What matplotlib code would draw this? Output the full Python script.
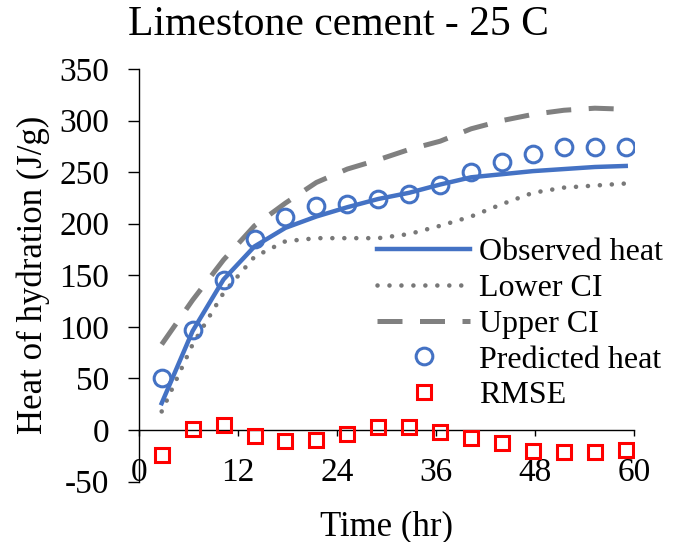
import matplotlib.pyplot as plt

plt.rcParams['font.family'] = ['Liberation Serif', 'DejaVu Serif']
plt.rcParams['axes.unicode_minus'] = False

# values
time_hr = [2.75, 6.5, 10.25, 14, 17.75, 21.5, 25.25, 29, 32.75, 36.5,
           40.25, 44, 47.75, 51.5, 55.25, 59]
observed = [26, 96, 146, 178, 196, 207, 216, 224, 230, 238,
            245, 248, 251, 253, 255, 256]
lower_ci = [18, 83, 133, 168, 183, 186, 186, 186, 190, 198,
            207, 219, 230, 235, 237, 239]
upper_ci = [83, 126, 165, 198, 220, 240, 253, 262, 272, 280,
            292, 300, 306, 310, 312, 311]
predicted = [50, 97, 145, 185, 207, 217, 219, 224, 229, 238,
             250, 260, 268, 274, 274, 274]
rmse = [-24, 1, 5, -6, -11, -10, -4, 3, 3, -2,
        -8, -13, -20, -21, -21, -19]

x_ticks = [0, 12, 24, 36, 48, 60]
y_ticks = [-50, 0, 50, 100, 150, 200, 250, 300, 350]

blue = '#4472C4'
gray = '#808080'

fig = plt.figure(figsize=(6.77, 5.42), dpi=100)
# plot area: x 139..634 px, y 69..481.6 px
ax = fig.add_axes([139 / 677, 1 - 481.6 / 542, 495 / 677, 412.6 / 542])

ax.plot(time_hr, observed, color=blue, lw=3.2, label='Observed heat', zorder=3)
ax.plot(time_hr, lower_ci, color='#787878', lw=3.3, linestyle=(0, (0.01, 2.6)),
        dash_capstyle='round', label='Lower CI', zorder=2)
ax.plot(time_hr, upper_ci, color=gray, lw=3.6, linestyle=(0, (5.0, 3.5)),
        label='Upper CI', zorder=2)
ax.plot(time_hr, predicted, linestyle='none', marker='o', ms=12, mew=2.2,
        mec=blue, mfc='none', label='Predicted heat', zorder=4)
ax.plot(time_hr, rmse, linestyle='none', marker='s', ms=10.5, mew=2.2,
        mec='#FF0000', mfc='none', label='RMSE', zorder=4)

ax.set_xlim(0, 60)
ax.set_ylim(-50, 350)
ax.set_xticks(x_ticks)
ax.set_yticks(y_ticks)

for s in ['top', 'right']:
    ax.spines[s].set_visible(False)
ax.spines['bottom'].set_position(('data', 0))
ax.spines['left'].set_linewidth(1.0)
ax.spines['bottom'].set_linewidth(1.0)

ax.tick_params(axis='y', direction='out', length=8, width=1, labelsize=24, pad=13.5)
ax.tick_params(axis='x', direction='out', length=4, width=1, labelsize=24, pad=15.5)

ax.set_xlabel('Time (hr)', fontsize=25)
ax.xaxis.set_label_coords(0.5, -0.069)
ax.set_ylabel('Heat of hydration (J/g)', fontsize=25)
ax.yaxis.set_label_coords(-0.18, 0.5)

fig.suptitle('Limestone cement - 25 C', fontsize=30, x=0.5, y=0.99)

ax.legend(loc='upper left', bbox_to_anchor=(377 / 677, 1 - 238 / 542),
          bbox_transform=fig.transFigure, frameon=False, fontsize=23,
          handlelength=2.92, handletextpad=0.28, labelspacing=0.2,
          borderpad=0, borderaxespad=0)

fig.savefig('out.png', dpi=100)
